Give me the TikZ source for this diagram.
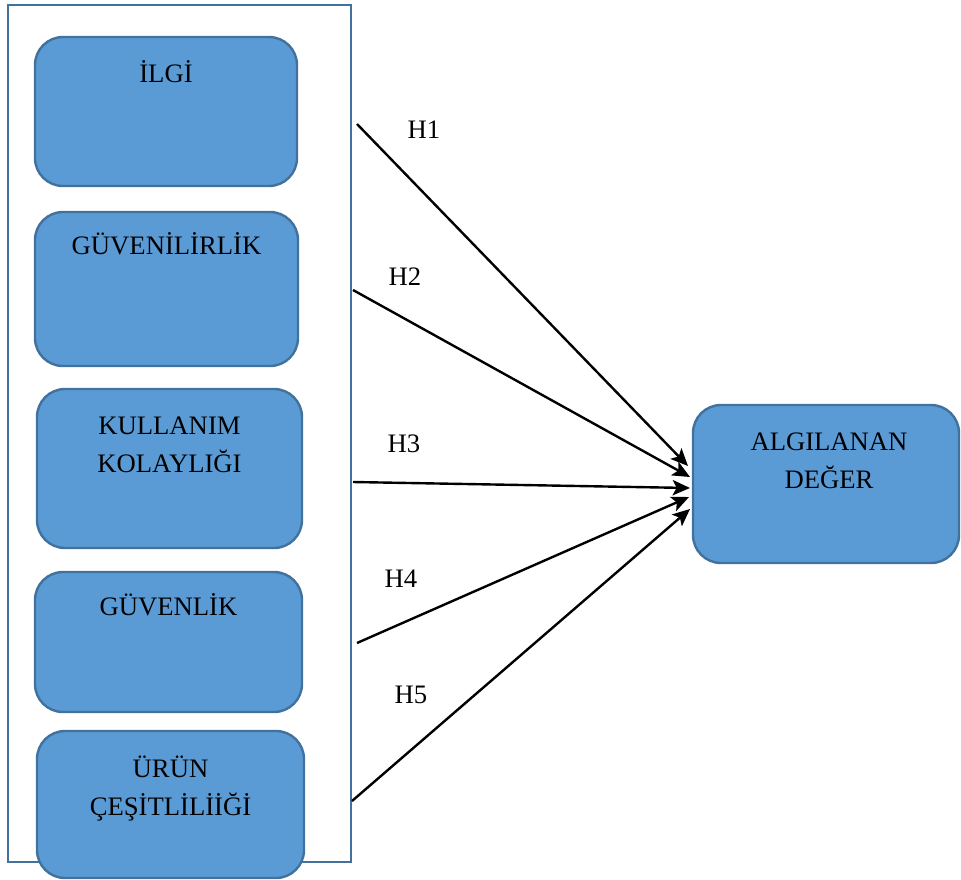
\documentclass[tikz,border=0pt]{standalone}
\usepackage{fontspec}
\setmainfont{Liberation Serif}
\usetikzlibrary{arrows.meta}
\definecolor{kutuF}{RGB}{91,155,213}
\definecolor{kutuC}{RGB}{65,113,156}

\begin{document}
\begin{tikzpicture}[x=0.75pt,y=-0.75pt,>={Stealth[length=13pt,width=11.5pt,inset=3pt]},
  kutu/.style={draw=kutuC,fill=kutuF,line width=1.8pt,rounded corners=21pt,inner sep=0pt},
  yazi/.style={anchor=base,align=center,inner sep=0pt,font=\fontsize{20}{28.5}\selectfont},
  ok/.style={->,line width=1.8pt}]
\useasboundingbox (0,0) rectangle (961,879);
% cerceve
\draw[kutuC,line width=1.6pt] (8,5) rectangle (351,862);
% bagimsiz degiskenler
\node[kutu,minimum width=196.5pt,minimum height=111.75pt] (ilgi) at (166,111.5) {};
\node[kutu,minimum width=197.25pt,minimum height=115.5pt] (guvenilir) at (166.5,289) {};
\node[kutu,minimum width=198.75pt,minimum height=119.25pt] (kolay) at (169.5,468.5) {};
\node[kutu,minimum width=200.25pt,minimum height=105pt] (guvenlik) at (168.5,642) {};
\node[kutu,minimum width=200.25pt,minimum height=110.25pt] (urun) at (170.5,804.5) {};
\node[yazi] (t1) at (166,82) {İLGİ};
\node[yazi] (t2) at (166.5,254) {GÜVENİLİRLİK};
\node[yazi] (t3) at (169.5,472) {KULLANIM\\KOLAYLIĞI};
\node[yazi] (t4) at (168.5,615) {GÜVENLİK};
\node[yazi] (t5) at (170.5,815) {ÜRÜN\\ÇEŞİTLİLİİĞİ};
% bagimli degisken
\node[kutu,minimum width=199.5pt,minimum height=118.5pt] (deger) at (826,484) {};
\node[yazi] (t6) at (829,488) {ALGILANAN\\DEĞER};
% hipotezler
\coordinate (s1) at (357,124); \coordinate (e1) at (688,466);
\coordinate (s2) at (353,290); \coordinate (e2) at (690,477);
\coordinate (s3) at (353,482); \coordinate (e3) at (690,488);
\coordinate (s4) at (357,643); \coordinate (e4) at (689,497);
\coordinate (s5) at (352,801); \coordinate (e5) at (690,509);
\draw[ok] (s1) -- (e1);
\draw[ok] (s2) -- (e2);
\draw[ok] (s3) -- (e3);
\draw[ok] (s4) -- (e4);
\draw[ok] (s5) -- (e5);
\node[yazi] (h1) at (424,138) {H1};
\node[yazi] (h2) at (405,285) {H2};
\node[yazi] (h3) at (404,452) {H3};
\node[yazi] (h4) at (401,587) {H4};
\node[yazi] (h5) at (411,703) {H5};
\end{tikzpicture}
\end{document}
